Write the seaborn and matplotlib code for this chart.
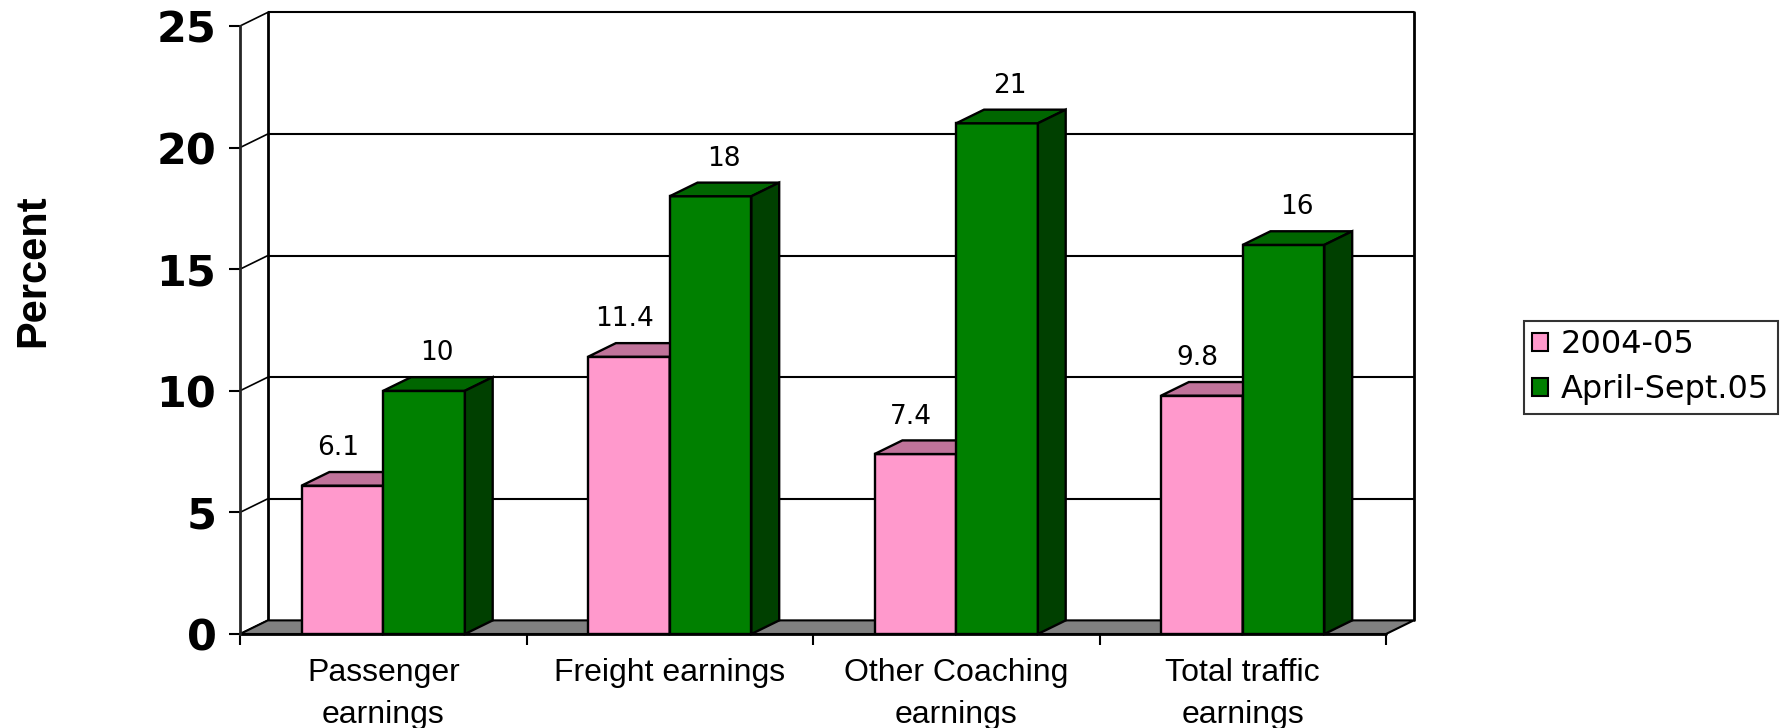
import matplotlib
matplotlib.use("Agg")
import matplotlib.pyplot as plt
from matplotlib.patches import Polygon, Patch
import seaborn as sns
import pandas as pd

# ---- data -------------------------------------------------------------
categories = ["Passenger\nearnings", "Freight earnings",
              "Other Coaching\nearnings", "Total traffic\nearnings"]
series_names = ["2004-05", "April-Sept.05"]
values_2004_05 = [6.1, 11.4, 7.4, 9.8]
values_apr_sep_05 = [10, 18, 21, 16]
y_ticks = [0, 5, 10, 15, 20, 25]

# ---- styling ----------------------------------------------------------
front_colors = ["#FF99CC", "#008000"]
top_colors = ["#C0739A", "#006600"]
side_colors = ["#B05A88", "#004000"]
floor_color = "#808080"

sns.set_style("white")
plt.rcParams["font.family"] = ["Liberation Sans", "DejaVu Sans"]
plt.rcParams["text.color"] = "black"
plt.rcParams["axes.labelcolor"] = "black"
plt.rcParams["xtick.color"] = "black"
plt.rcParams["ytick.color"] = "black"

df = pd.DataFrame({
    "category": categories * 2,
    "series": [series_names[0]] * 4 + [series_names[1]] * 4,
    "value": values_2004_05 + values_apr_sep_05,
})

W, H = 1787, 728
fig = plt.figure(figsize=(W / 100, H / 100), dpi=100)
# front plane of the 3-D box
left, right, bottom, top = 240, 1386, 634, 26
ax = fig.add_axes([left / W, 1 - bottom / H, (right - left) / W, (bottom - top) / H])

# depth offset of the 3-D effect, in data units
DX, DY = 0.097, 0.56
X0, X1 = -0.5, len(categories) - 0.5
YMAX = y_ticks[-1]

sns.barplot(data=df, x="category", y="value", hue="series",
            palette=front_colors, saturation=1, width=0.57, gap=0,
            edgecolor="black", linewidth=1.7, legend=False, ax=ax)

ax.set_xlim(X0, X1)
ax.set_ylim(0, YMAX)

lw_grid = 1.5
# back wall gridlines and side-wall diagonals
for v in y_ticks:
    if v > 0:
        ax.plot([X0 + DX, X1 + DX], [v + DY, v + DY], color="black",
                lw=lw_grid, zorder=1, clip_on=False, solid_capstyle="butt")
    ax.plot([X0, X0 + DX], [v, v + DY], color="black", lw=lw_grid * 0.8,
            zorder=1, clip_on=False)
# back wall verticals
for xv in (X0 + DX, X1 + DX):
    ax.plot([xv, xv], [DY, YMAX + DY], color="black", lw=2.0, zorder=1,
            clip_on=False)

# floor
floor = Polygon([(X0, 0), (X1, 0), (X1 + DX, DY), (X0 + DX, DY)],
                closed=True, facecolor=floor_color, edgecolor="black",
                lw=1.5, zorder=1.5, clip_on=False)
ax.add_patch(floor)

# 3-D tops and sides of the bars, plus value labels
label_dx = [-3, 9.5]
for k, cont in enumerate(ax.containers):
    z = 3 + 2 * k
    for p, val in zip(cont.patches, cont.datavalues):
        p.set_zorder(z)
        x0, w, h = p.get_x(), p.get_width(), p.get_height()
        top_face = Polygon([(x0, h), (x0 + w, h), (x0 + w + DX, h + DY), (x0 + DX, h + DY)],
                           closed=True, facecolor=top_colors[k], edgecolor="black",
                           lw=1.7, zorder=z + 0.5, clip_on=False)
        side_face = Polygon([(x0 + w, 0), (x0 + w + DX, DY), (x0 + w + DX, h + DY), (x0 + w, h)],
                            closed=True, facecolor=side_colors[k], edgecolor="black",
                            lw=1.7, zorder=z + 0.5, clip_on=False)
        ax.add_patch(top_face)
        ax.add_patch(side_face)
        ax.annotate(f"{val:g}", xy=(x0 + w / 2, h), xytext=(label_dx[k], 27),
                    textcoords="offset points", ha="center", va="center",
                    fontsize=19, family="DejaVu Sans", color="black", zorder=10)

# axes frame: only the front vertical axis is visible
for s in ("top", "right", "bottom"):
    ax.spines[s].set_visible(False)
ax.spines["left"].set_linewidth(2.0)
ax.spines["left"].set_zorder(2)

ax.set_yticks(y_ticks)
ax.set_yticklabels([str(t) for t in y_ticks], fontsize=31, fontweight="heavy",
                   family="DejaVu Sans")
ax.tick_params(axis="y", direction="out", length=8, width=1.5, pad=9, left=True)

ax.set_xticks(range(len(categories)))
ax.set_xticklabels(categories, fontsize=23, linespacing=1.52)
ax.set_xticks([X0 + i for i in range(len(categories) + 1)], minor=True)
ax.tick_params(axis="x", which="major", length=0, pad=17)
ax.tick_params(axis="x", which="minor", direction="out", length=8, width=1.5,
               bottom=True)
for lab in ax.get_xticklabels():
    lab.set_verticalalignment("top")
ax.axhline(0, color="black", lw=2.0, zorder=2, clip_on=False)

ax.set_xlabel("")
ax.set_ylabel("Percent", fontsize=30, fontweight="bold")
ax.yaxis.label.set_va("center")
ax.yaxis.set_label_coords(-0.18, 0.597)

handles = [Patch(facecolor=front_colors[i], edgecolor="black", lw=1.5,
                 label=series_names[i]) for i in range(2)]
leg = fig.legend(handles=handles, loc="upper left",
                 bbox_to_anchor=(1524 / W, 1 - 321 / H),
                 bbox_transform=fig.transFigure, frameon=True, fancybox=False,
                 prop={"family": "DejaVu Sans", "size": 23},
                 handlelength=0.5, handleheight=0.5, handletextpad=0.4,
                 labelspacing=0.44, borderpad=0.26, borderaxespad=0)
leg.get_frame().set_edgecolor("black")
leg.get_frame().set_linewidth(1.5)

fig.savefig("out.png", dpi=100)
